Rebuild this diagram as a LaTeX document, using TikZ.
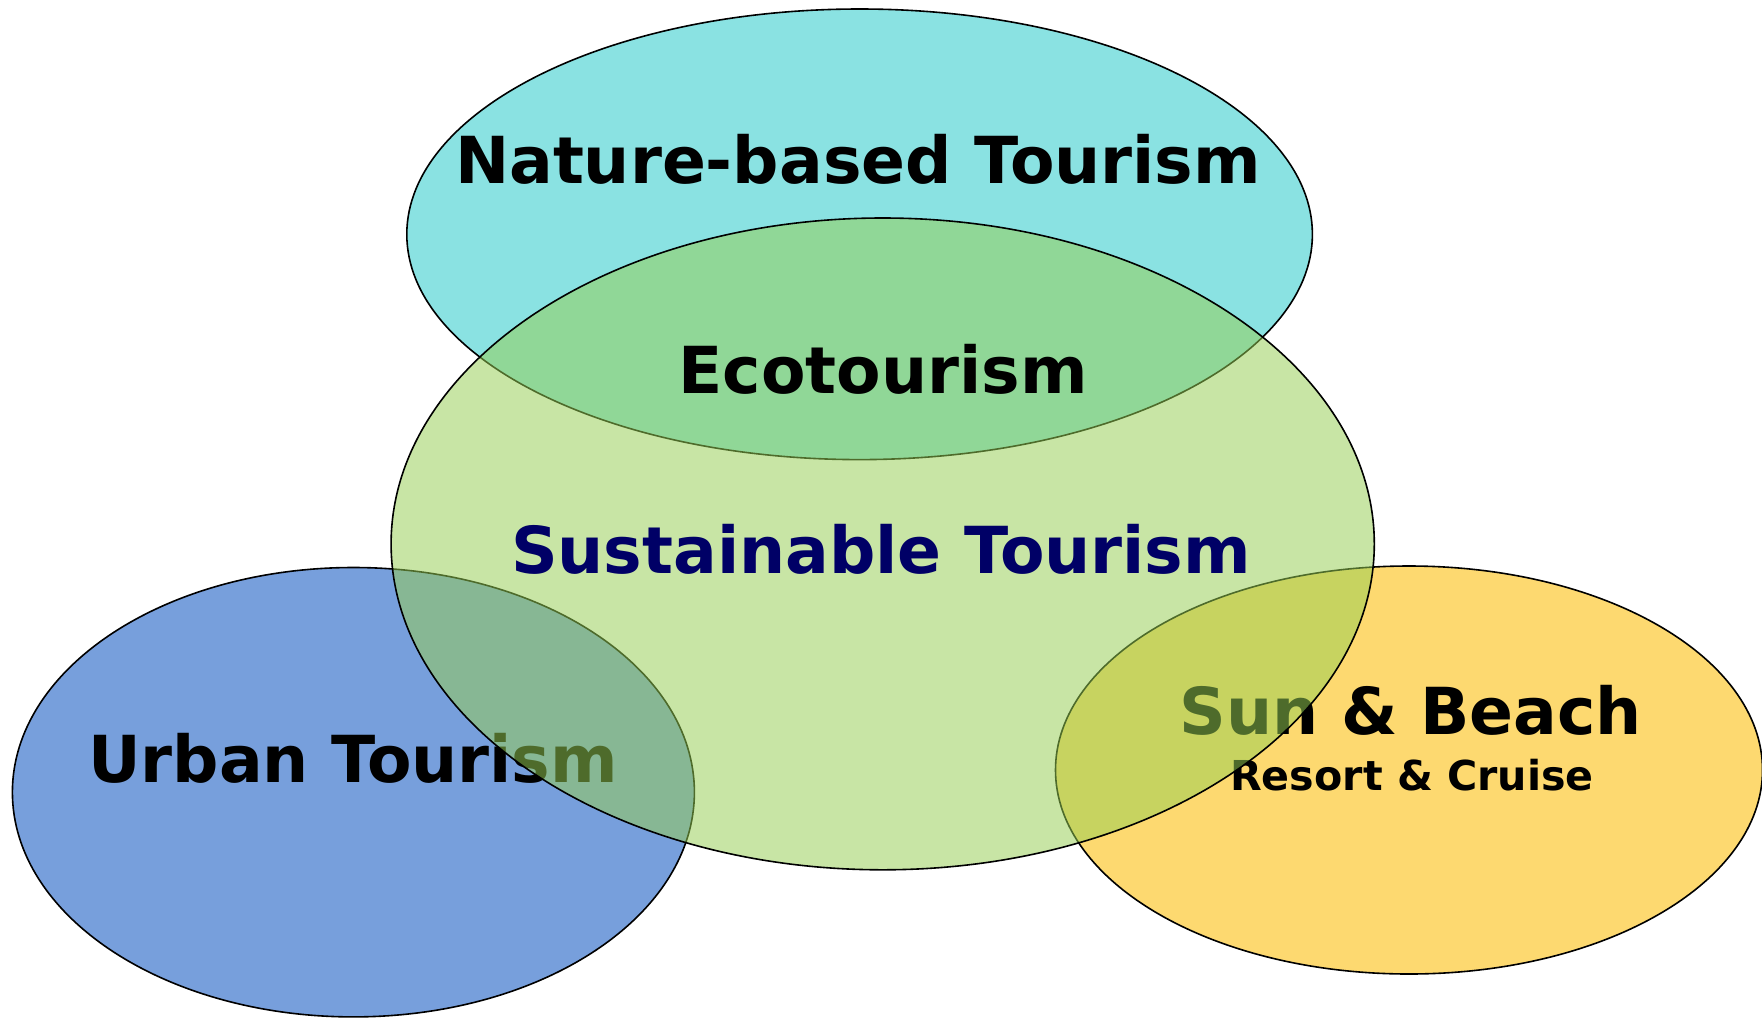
\documentclass[tikz,border=0pt]{standalone}
\usepackage{fontspec}
\setmainfont{DejaVu Sans}
\definecolor{cyanfill}{RGB}{138,226,226}
\definecolor{bluefill}{RGB}{119,159,220}
\definecolor{yellowfill}{RGB}{253,217,112}
\definecolor{greenfill}{RGB}{150,206,83}
\definecolor{navytext}{RGB}{0,0,102}
\begin{document}
\begin{tikzpicture}[x=0.5pt,y=-0.5pt,
  blob/.style={draw=black,line width=0.8pt},
  bigtext/.style={font=\fontsize{32.4}{38}\selectfont\bfseries,inner sep=0pt,anchor=base},
  smalltext/.style={font=\fontsize{20.6}{24}\selectfont\bfseries,inner sep=0pt,anchor=base}]
\useasboundingbox (0,0) rectangle (1762,1018);
\fill[white] (0,0) rectangle (1762,1018);
% outer circles
\path[blob,fill=cyanfill] (859.6,234.3) ellipse [x radius=452.8, y radius=225.3];
\path[blob,fill=bluefill] (353.4,792.2) ellipse [x radius=341, y radius=224.7];
\path[blob,fill=yellowfill] (1409,770) ellipse [x radius=353.5, y radius=204];
% texts under the central circle
\node[bigtext] (nature) at (858,183) {Nature-based Tourism};
\node[bigtext] (urban) at (353,782) {Urban Tourism};
\node[bigtext] (sun) at (1411,734) {Sun \& Beach};
\node[smalltext] (resort) at (1412,790) {Resort \& Cruise};
% central circle
\path[blob,fill=greenfill,fill opacity=0.52] (882.7,543.9) ellipse [x radius=491.6, y radius=325.9];
\node[bigtext] (eco) at (883,393) {Ecotourism};
\node[bigtext,text=navytext] (sust) at (881,573) {Sustainable Tourism};
\end{tikzpicture}
\end{document}
